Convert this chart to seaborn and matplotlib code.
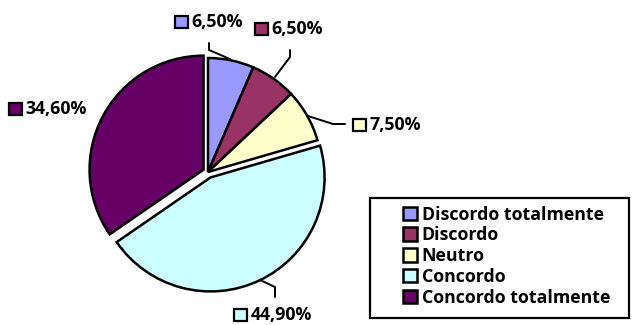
import matplotlib
matplotlib.use("Agg")
import matplotlib.pyplot as plt
from matplotlib.patches import Rectangle
import seaborn as sns

# Survey answers and their shares (%)
categorias = ["Discordo totalmente", "Discordo", "Neutro", "Concordo", "Concordo totalmente"]
percentuais = [6.5, 6.5, 7.5, 44.9, 34.6]
cores = ["#9999FF", "#993366", "#FFFFCC", "#CCFFFF", "#660066"]

sns.set_theme(style="white")
plt.rcParams["font.family"] = ["Open Sans", "DejaVu Sans"]
plt.rcParams["font.weight"] = "bold"

W, H = 633, 325
fig = plt.figure(figsize=(W / 100, H / 100), dpi=100)
ax = fig.add_axes([0, 0, 1, 1])

# pixel-like coordinates: x to the right, y measured from the bottom
cx, cy, r = 208, H - 172, 114
wedges, _ = ax.pie(
    percentuais,
    colors=cores,
    startangle=90,
    counterclock=False,
    radius=r,
    center=(cx, cy),
    explode=[0, 0, 0, 6, 5],
    wedgeprops=dict(edgecolor="black", linewidth=1.8),
)
ax.set_xlim(0, W)
ax.set_ylim(0, H)
ax.set_aspect("equal")
ax.axis("off")

FS = 12.8

def fmt(v):
    return f"{v:.2f}".replace(".", ",") + "%"

# data label placement: (square left x, row centre y) in pixels from the top
posicoes = [(175, 22), (255, 29), (353, 125), (234, 315), (9, 109)]
lideres = [
    [(209, 43), (209, 50), (230, 59)],
    [(290, 50), (290, 57), (275, 77)],
    [(345, 124), (333, 124), (308, 116)],
    [(275, 297), (275, 287), (260, 280)],
    None,
]
SQ = 12.5
for v, c, (px, py), lid in zip(percentuais, cores, posicoes, lideres):
    ax.add_patch(Rectangle((px, H - py - SQ / 2), SQ, SQ, facecolor=c,
                           edgecolor="black", linewidth=1.6, clip_on=False))
    ax.text(px + SQ + 4, H - py, fmt(v), fontsize=FS, fontweight="bold",
            va="center", ha="left", color="black")
    if lid:
        xs = [p[0] for p in lid]
        ys = [H - p[1] for p in lid]
        ax.plot(xs, ys, color="black", linewidth=1.4, clip_on=False)

# legend with its own framed box
ax.add_patch(Rectangle((370, H - 318), 259, 120, facecolor="white",
                       edgecolor="black", linewidth=1.6, clip_on=False))
leg = ax.legend(
    wedges, categorias,
    loc="upper left",
    bbox_to_anchor=(403 / W, 1 - 205.5 / H),
    bbox_transform=fig.transFigure,
    frameon=False,
    prop=dict(weight="bold", size=FS),
    handlelength=0.8,
    handleheight=0.8,
    handletextpad=0.25,
    labelspacing=0.155,
    borderpad=0,
    borderaxespad=0,
)
for t in leg.get_texts():
    t.set_color("black")

fig.savefig("out.png", dpi=100, facecolor="white")
